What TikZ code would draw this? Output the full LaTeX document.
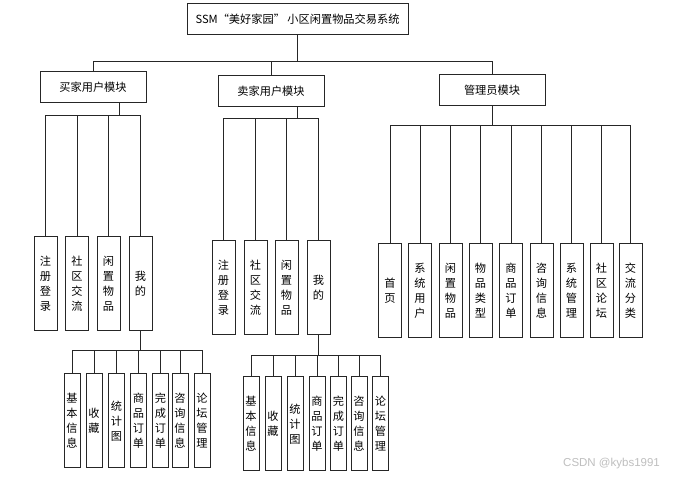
\documentclass[tikz,border=0pt]{standalone}
\usepackage{fontspec}
\newfontfamily\cjk{Noto Sans CJK SC}
\setsansfont{Liberation Sans}
\usetikzlibrary{calc}
\tikzset{
  ln/.style={draw=gray!30!black, line width=0.9pt},
  bx/.style={draw=gray!30!black, line width=1pt, fill=white, minimum width=23pt,
    minimum height=94pt, inner sep=0pt, align=center,
    font=\cjk\fontsize{11.2}{15}\selectfont},
  sbx/.style={bx, minimum width=16pt},
  modbox/.style={bx, minimum width=106pt, minimum height=31pt},
  titlebox/.style={bx, minimum width=221pt, minimum height=31pt},
  wm/.style={font=\sffamily\fontsize{11.5}{13}\selectfont, text=gray!50, inner sep=0pt}
}
\begin{document}
\begin{tikzpicture}[x=1pt,y=-1pt]
\fill[white] (0,0) rectangle (673,478);
\useasboundingbox (0,0) rectangle (673,478);

% title and modules
\node[titlebox] (title) at (297.5,19.5) {SSM“美好家园” 小区闲置物品交易系统};
\node[modbox] (buyer) at (93,87.5) {买家用户模块};
\node[modbox] (seller) at (271,91) {卖家用户模块};
\node[modbox] (admin) at (492,90) {管理员模块};

\draw[ln] (title.south) -- ++(0,26) -| (buyer.north);
\draw[ln] (title.south) -- ++(0,26) -| (seller.north);
\draw[ln] (title.south) -- ++(0,26) -| (admin.north);

% buyer children
\node[bx] (b1) at (45.5,284) {注\\册\\登\\录};
\node[bx] (b2) at (77,284) {社\\区\\交\\流};
\node[bx] (b3) at (108.5,284) {闲\\置\\物\\品};
\node[bx] (b4) at (140.5,284) {我\\的};
\coordinate (bd) at ($(buyer.south west)!0.75!(buyer.south east)$);
\foreach \c in {b1,b2,b3,b4} \draw[ln] (bd) -- ++(0,12) -| (\c.north);

% buyer grandchildren
\node[sbx] (bg1) at (72,421) {基\\本\\信\\息};
\node[sbx] (bg2) at (94,421) {收\\藏};
\node[sbx] (bg3) at (116.5,421) {统\\计\\图};
\node[sbx] (bg4) at (138.5,421) {商\\品\\订\\单};
\node[sbx] (bg5) at (160.5,421) {完\\成\\订\\单};
\node[sbx] (bg6) at (180,421) {咨\\询\\信\\息};
\node[sbx] (bg7) at (202,421) {论\\坛\\管\\理};
\foreach \c in {bg1,bg2,bg3,bg4,bg5,bg6,bg7} \draw[ln] (b4.south) -- ++(0,19) -| (\c.north);

% seller children
\node[bx] (s1) at (223.5,287.5) {注\\册\\登\\录};
\node[bx] (s2) at (255.5,287.5) {社\\区\\交\\流};
\node[bx] (s3) at (286.5,287.5) {闲\\置\\物\\品};
\node[bx] (s4) at (318.5,287.5) {我\\的};
\coordinate (sd) at ($(seller.south west)!0.75!(seller.south east)$);
\foreach \c in {s1,s2,s3,s4} \draw[ln] (sd) -- ++(0,11) -| (\c.north);

% seller grandchildren
\node[sbx] (sg1) at (251,424) {基\\本\\信\\息};
\node[sbx] (sg2) at (273,424) {收\\藏};
\node[sbx] (sg3) at (295,424) {统\\计\\图};
\node[sbx] (sg4) at (317,424) {商\\品\\订\\单};
\node[sbx] (sg5) at (338.5,424) {完\\成\\订\\单};
\node[sbx] (sg6) at (359,424) {咨\\询\\信\\息};
\node[sbx] (sg7) at (380.5,424) {论\\坛\\管\\理};
\foreach \c in {sg1,sg2,sg3,sg4,sg5,sg6,sg7} \draw[ln] (s4.south) -- ++(0,20) -| (\c.north);

% admin children
\node[bx] (a1) at (390,290.5) {首\\页};
\node[bx] (a2) at (420,290.5) {系\\统\\用\\户};
\node[bx] (a3) at (450.5,290.5) {闲\\置\\物\\品};
\node[bx] (a4) at (480.5,290.5) {物\\品\\类\\型};
\node[bx] (a5) at (511,290.5) {商\\品\\订\\单};
\node[bx] (a6) at (541.5,290.5) {咨\\询\\信\\息};
\node[bx] (a7) at (571.5,290.5) {系\\统\\管\\理};
\node[bx] (a8) at (601.5,290.5) {社\\区\\论\\坛};
\node[bx] (a9) at (630.5,290.5) {交\\流\\分\\类};
\foreach \c in {a1,a2,a3,a4,a5,a6,a7,a8,a9} \draw[ln] (admin.south) -- ++(0,19) -| (\c.north);

% watermark
\node[wm, anchor=west] (wmark) at (563,464) {CSDN @kybs1991};
\end{tikzpicture}
\end{document}
